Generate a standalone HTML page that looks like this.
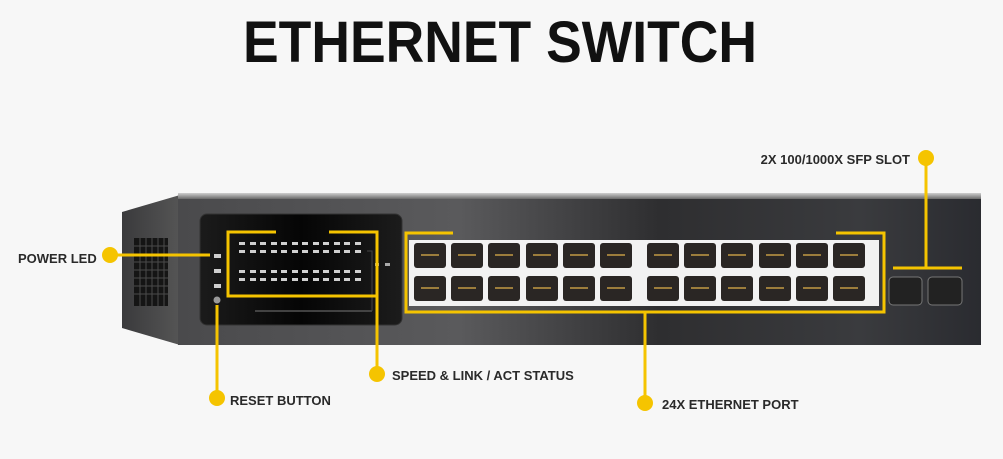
<!DOCTYPE html>
<html><head><meta charset="utf-8"><style>
html,body{margin:0;padding:0;background:#f7f7f7;}
svg{display:block;}
text{font-family:"Liberation Sans",sans-serif;}
</style></head><body>
<svg width="1003" height="459" viewBox="0 0 1003 459" xmlns="http://www.w3.org/2000/svg">
<defs>
<linearGradient id="front" x1="0" y1="0" x2="1" y2="0">
<stop offset="0" stop-color="#4a4a4c"/><stop offset="0.35" stop-color="#5a5a5c"/><stop offset="0.6" stop-color="#2e2e30"/><stop offset="0.85" stop-color="#3a3b3e"/><stop offset="1" stop-color="#2a2b30"/>
</linearGradient>
<linearGradient id="side" x1="0" y1="0" x2="1" y2="0">
<stop offset="0" stop-color="#3a3a3c"/><stop offset="1" stop-color="#555"/>
</linearGradient>
<linearGradient id="topstrip" x1="0" y1="0" x2="0" y2="1">
<stop offset="0" stop-color="#cfcfcf"/><stop offset="1" stop-color="#6a6a6a"/>
</linearGradient>
<linearGradient id="panel" x1="0" y1="0" x2="1" y2="0">
<stop offset="0" stop-color="#1b1b1b"/><stop offset="0.5" stop-color="#050505"/><stop offset="1" stop-color="#1c1c1c"/>
</linearGradient>
</defs>
<text x="500" y="62" text-anchor="middle" font-size="58" font-weight="bold" fill="#111" textLength="514" lengthAdjust="spacingAndGlyphs">ETHERNET SWITCH</text>

<!-- side -->
<polygon points="122,212 180,195 180,345 122,328" fill="url(#side)"/>
<g fill="#151515">
<rect x="134" y="238" width="34" height="68"/>
</g>
<g stroke="#4a4a4a" stroke-width="1">
<line x1="134" y1="246" x2="168" y2="246"/><line x1="134" y1="254" x2="168" y2="254"/><line x1="134" y1="262" x2="168" y2="262"/><line x1="134" y1="270" x2="168" y2="270"/><line x1="134" y1="278" x2="168" y2="278"/><line x1="134" y1="286" x2="168" y2="286"/><line x1="134" y1="294" x2="168" y2="294"/>
<line x1="140" y1="238" x2="140" y2="306"/><line x1="146" y1="238" x2="146" y2="306"/><line x1="152" y1="238" x2="152" y2="306"/><line x1="158" y1="238" x2="158" y2="306"/><line x1="164" y1="238" x2="164" y2="306"/>
</g>
<!-- front -->
<rect x="178" y="195" width="803" height="150" fill="url(#front)"/>
<rect x="178" y="193" width="803" height="6" fill="url(#topstrip)"/>

<!-- black panel -->
<rect x="200" y="214" width="202" height="111" rx="7" fill="url(#panel)" stroke="#333"/>
<g fill="#cfcfcf">
<rect x="214" y="254" width="7" height="4"/><rect x="214" y="269" width="7" height="4"/><rect x="214" y="284" width="7" height="4"/>
</g>
<circle cx="217" cy="300" r="3.5" fill="#999"/>
<g fill="#d0d0d0" id="ledrow">
<rect x="239" y="242" width="6" height="3"/><rect x="250" y="242" width="6" height="3"/><rect x="260" y="242" width="6" height="3"/><rect x="271" y="242" width="6" height="3"/><rect x="281" y="242" width="6" height="3"/><rect x="292" y="242" width="6" height="3"/><rect x="302" y="242" width="6" height="3"/><rect x="313" y="242" width="6" height="3"/><rect x="323" y="242" width="6" height="3"/><rect x="334" y="242" width="6" height="3"/><rect x="344" y="242" width="6" height="3"/><rect x="355" y="242" width="6" height="3"/>
</g>
<use href="#ledrow" y="8"/><use href="#ledrow" y="28"/><use href="#ledrow" y="36"/>
<rect x="375" y="263" width="4" height="3" fill="#aaa"/><rect x="385" y="263" width="5" height="3" fill="#aaa"/>
<line x1="255" y1="311" x2="372" y2="311" stroke="#555" stroke-width="1.5"/>
<polyline points="367,251 372,251 372,311" fill="none" stroke="#444" stroke-width="1"/>

<!-- ports -->
<rect x="409" y="240" width="470" height="66" fill="#f2f2f2"/>
<g id="prow">
<g fill="#2a2624">
<rect x="414" y="243" width="32" height="25" rx="3"/><rect x="451" y="243" width="32" height="25" rx="3"/><rect x="488" y="243" width="32" height="25" rx="3"/><rect x="526" y="243" width="32" height="25" rx="3"/><rect x="563" y="243" width="32" height="25" rx="3"/><rect x="600" y="243" width="32" height="25" rx="3"/>
<rect x="647" y="243" width="32" height="25" rx="3"/><rect x="684" y="243" width="32" height="25" rx="3"/><rect x="721" y="243" width="32" height="25" rx="3"/><rect x="759" y="243" width="32" height="25" rx="3"/><rect x="796" y="243" width="32" height="25" rx="3"/><rect x="833" y="243" width="32" height="25" rx="3"/>
</g>
<g fill="#9c7d3c">
<rect x="421" y="254" width="18" height="2"/><rect x="458" y="254" width="18" height="2"/><rect x="495" y="254" width="18" height="2"/><rect x="533" y="254" width="18" height="2"/><rect x="570" y="254" width="18" height="2"/><rect x="607" y="254" width="18" height="2"/>
<rect x="654" y="254" width="18" height="2"/><rect x="691" y="254" width="18" height="2"/><rect x="728" y="254" width="18" height="2"/><rect x="766" y="254" width="18" height="2"/><rect x="803" y="254" width="18" height="2"/><rect x="840" y="254" width="18" height="2"/>
</g>
</g>
<use href="#prow" y="33"/>

<!-- SFP -->
<rect x="889" y="277" width="33" height="28" rx="4" fill="#222" stroke="#777"/>
<rect x="928" y="277" width="34" height="28" rx="4" fill="#222" stroke="#777"/>

<!-- yellow callouts -->
<g stroke="#f5c400" stroke-width="3" fill="none">
<polyline points="276,232 228,232 228,296 377,296 377,232 329,232"/>
<line x1="377" y1="296" x2="377" y2="374"/>
<line x1="110" y1="255" x2="210" y2="255"/>
<line x1="217" y1="305" x2="217" y2="398"/>
<polyline points="453,233 406,233 406,312 884,312 884,233 836,233"/>
<line x1="645" y1="312" x2="645" y2="403"/>
<line x1="893" y1="268" x2="962" y2="268"/>
<line x1="926" y1="158" x2="926" y2="268"/>
</g>
<g fill="#f5c400">
<circle cx="110" cy="255" r="8"/><circle cx="217" cy="398" r="8"/><circle cx="377" cy="374" r="8"/><circle cx="645" cy="403" r="8"/><circle cx="926" cy="158" r="8"/>
</g>
<g font-size="13" font-weight="bold" fill="#2a2a2a">
<text x="18" y="263">POWER LED</text>
<text x="230" y="405">RESET BUTTON</text>
<text x="392" y="380">SPEED &amp; LINK / ACT STATUS</text>
<text x="662" y="409">24X ETHERNET PORT</text>
<text x="910" y="164" text-anchor="end">2X 100/1000X SFP SLOT</text>
</g>
</svg>
</body></html>
